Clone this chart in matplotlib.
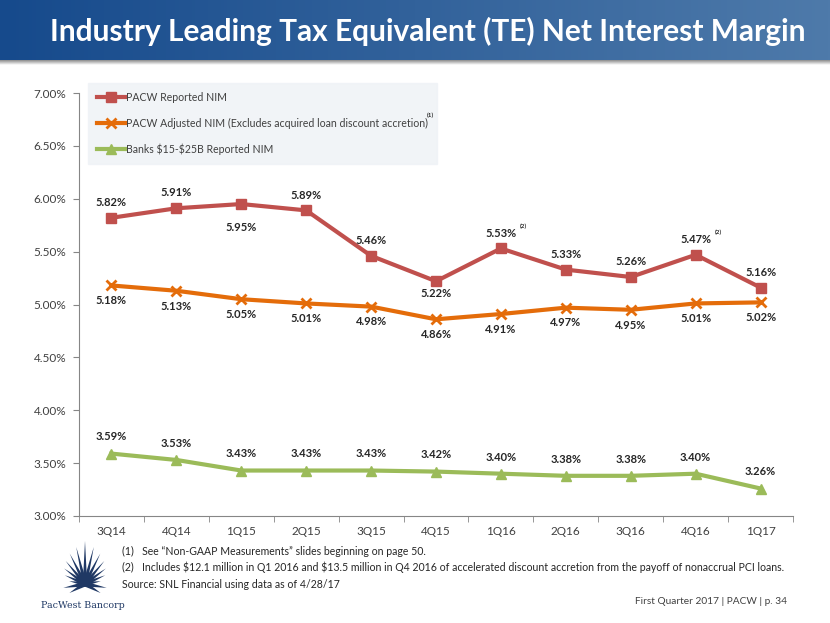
import numpy as np
import matplotlib
matplotlib.use("Agg")
import matplotlib.pyplot as plt
from matplotlib.patches import Polygon

plt.rcParams['font.family'] = ['Lato', 'DejaVu Sans']

# data
quarters = ["3Q14", "4Q14", "1Q15", "2Q15", "3Q15", "4Q15",
            "1Q16", "2Q16", "3Q16", "4Q16", "1Q17"]
pacw_reported = [5.82, 5.91, 5.95, 5.89, 5.46, 5.22, 5.53, 5.33, 5.26, 5.47, 5.16]
pacw_adjusted = [5.18, 5.13, 5.05, 5.01, 4.98, 4.86, 4.91, 4.97, 4.95, 5.01, 5.02]
banks_reported = [3.59, 3.53, 3.43, 3.43, 3.43, 3.42, 3.40, 3.38, 3.38, 3.40, 3.26]
series_names = ["PACW Reported NIM",
                "PACW Adjusted NIM (Excludes acquired loan discount accretion)",
                r"Banks \$15-\$25B Reported NIM"]
y_ticks = [3.0, 3.5, 4.0, 4.5, 5.0, 5.5, 6.0, 6.5, 7.0]

# label placement (offset in points, + above / - below)
red_offsets = [11, 11, -17, 11, 11, -9, 11, 11, 11, 11, 11]
orange_offset = -11
green_offset = 12

RED = "#C0504D"
ORANGE = "#E46C0A"
GREEN = "#9BBB59"
TXT = "#404040"
AXC = "#868686"

W, H = 830, 623
fig = plt.figure(figsize=(W / 100, H / 100), dpi=100)


def px(x0, y0, x1, y1):
    # pixel box -> figure fraction rect
    return [x0 / W, 1 - y1 / H, (x1 - x0) / W, (y1 - y0) / H]


# header banner with gradient
hb = fig.add_axes(px(0, 0, W, 60))
grad = np.linspace(0, 1, 256)
c0 = np.array([22, 74, 140]) / 255
c1 = np.array([78, 122, 170]) / 255
img = c0[None, :] * (1 - grad[:, None]) + c1[None, :] * grad[:, None]
hb.imshow(img[None, :, :], aspect="auto", extent=[0, 1, 0, 1])
hb.set_axis_off()
sh = fig.add_axes(px(0, 60, W, 65))
sh.imshow(np.linspace(0.55, 1, 20)[:, None, None] * np.ones((1, 1, 3)),
          aspect="auto", extent=[0, 1, 0, 1])
sh.set_axis_off()
fig.text(428 / W, 1 - 31 / H, "Industry Leading Tax Equivalent (TE) Net Interest Margin",
         color="white", fontsize=21.5, fontweight="bold", ha="center", va="center")

# main chart
ax = fig.add_axes(px(79, 93, 793, 516))
x = np.arange(len(quarters))
ax.plot(x, pacw_reported, color=RED, lw=3, marker="s", ms=6.5, label=series_names[0])
ax.plot(x, pacw_adjusted, color=ORANGE, lw=3, marker="x", ms=7, mew=2, label=series_names[1])
ax.plot(x, banks_reported, color=GREEN, lw=3, marker="^", ms=7, label=series_names[2])

ax.set_xlim(-0.5, len(quarters) - 0.5)
ax.set_ylim(3.0, 7.0)
ax.set_yticks(y_ticks)
ax.set_yticklabels(["%.2f%%" % v for v in y_ticks])
ax.set_xticks(x)
ax.set_xticklabels(quarters)
ax.set_xticks(np.arange(-0.5, len(quarters)), minor=True)
ax.tick_params(axis="x", which="major", length=0, pad=7, labelsize=8.5, labelcolor=TXT)
ax.tick_params(axis="x", which="minor", length=4, color=AXC, direction="out")
ax.tick_params(axis="y", length=4, color=AXC, labelsize=8.5, labelcolor=TXT, pad=5)
for s in ["top", "right"]:
    ax.spines[s].set_visible(False)
for s in ["left", "bottom"]:
    ax.spines[s].set_color(AXC)

lab = dict(fontsize=8, fontweight="bold", color="#262626", ha="center", va="center",
           textcoords="offset points")
for i, v in enumerate(pacw_reported):
    ax.annotate("%.2f%%" % v, (i, v), xytext=(0, red_offsets[i]), **lab)
for i, v in enumerate(pacw_adjusted):
    ax.annotate("%.2f%%" % v, (i, v), xytext=(0, orange_offset), **lab)
for i, v in enumerate(banks_reported):
    ax.annotate("%.2f%%" % v, (i, v), xytext=(0, green_offset), **lab)
for i in [6, 9]:
    ax.annotate("(2)", (i, pacw_reported[i]), xytext=(16, 16), textcoords="offset points",
                fontsize=4.5, fontweight="bold", color="#262626", ha="center", va="center")

leg = ax.legend(loc="upper left", bbox_to_anchor=(0.012, 1.024), frameon=True,
                fontsize=7.6, labelspacing=1.4, handlelength=2.7, handletextpad=0.1,
                borderpad=0.85, borderaxespad=0)
leg.get_frame().set_facecolor("#EEF2F6")
leg.get_frame().set_edgecolor("#EEF2F6")
leg.get_frame().set_boxstyle("square", pad=0)
for t in leg.get_texts():
    t.set_color(TXT)
fig.text(427 / W, 1 - 115 / H, "(1)", fontsize=4.5, fontweight="bold", color="#262626",
         ha="left", va="center")

# footnotes
fn = dict(fontsize=7.6, color="#262626", ha="left", va="center")
fig.text(122 / W, 1 - 551 / H, "(1)   See \u201cNon-GAAP Measurements\u201d slides beginning on page 50.", **fn)
fig.text(122 / W, 1 - 567 / H, r"(2)   Includes \$12.1 million in Q1 2016 and \$13.5 million in Q4 2016 of "
         "accelerated discount accretion from the payoff of nonaccrual PCI loans.", **fn)
fig.text(122 / W, 1 - 584 / H, "Source: SNL Financial using data as of 4/28/17", **fn)
fig.text(787 / W, 1 - 601 / H, "First Quarter 2017 | PACW | p. 34", fontsize=7.3,
         color="#404040", ha="right", va="center")

# logo
lg = fig.add_axes(px(40, 540, 125, 615))
lg.set_xlim(0, 85)
lg.set_ylim(75, 0)
lg.set_axis_off()
cx, cy = 45, 44
angles = np.linspace(190, 350, 13)
lengths = [16, 22, 26, 30, 34, 38, 43, 38, 34, 30, 26, 22, 16]
for a, L in zip(angles, lengths):
    r = np.deg2rad(a)
    pr = r + np.pi / 2
    w = 2.2
    tip = (cx + L * np.cos(r), cy + L * np.sin(r))
    b1 = (cx + w * np.cos(pr), cy + w * np.sin(pr))
    b2 = (cx - w * np.cos(pr), cy - w * np.sin(pr))
    lg.add_patch(Polygon([tip, b1, b2], closed=True, color="#1F3864", lw=0))
for a, L in zip([150, 30, 170, 10], [18, 18, 22, 22]):
    r = np.deg2rad(a)
    pr = r + np.pi / 2
    tip = (cx + L * np.cos(r), cy + L * np.sin(r))
    b1 = (cx + 2.5 * np.cos(pr), cy + 2.5 * np.sin(pr))
    b2 = (cx - 2.5 * np.cos(pr), cy - 2.5 * np.sin(pr))
    lg.add_patch(Polygon([tip, b1, b2], closed=True, color="#1F3864", lw=0))
lg.text(43, 66, "PacWest Bancorp", family="DejaVu Serif", fontsize=6.8,
        color="#1F3864", ha="center", va="center")

fig.savefig("out.png", dpi=100)
